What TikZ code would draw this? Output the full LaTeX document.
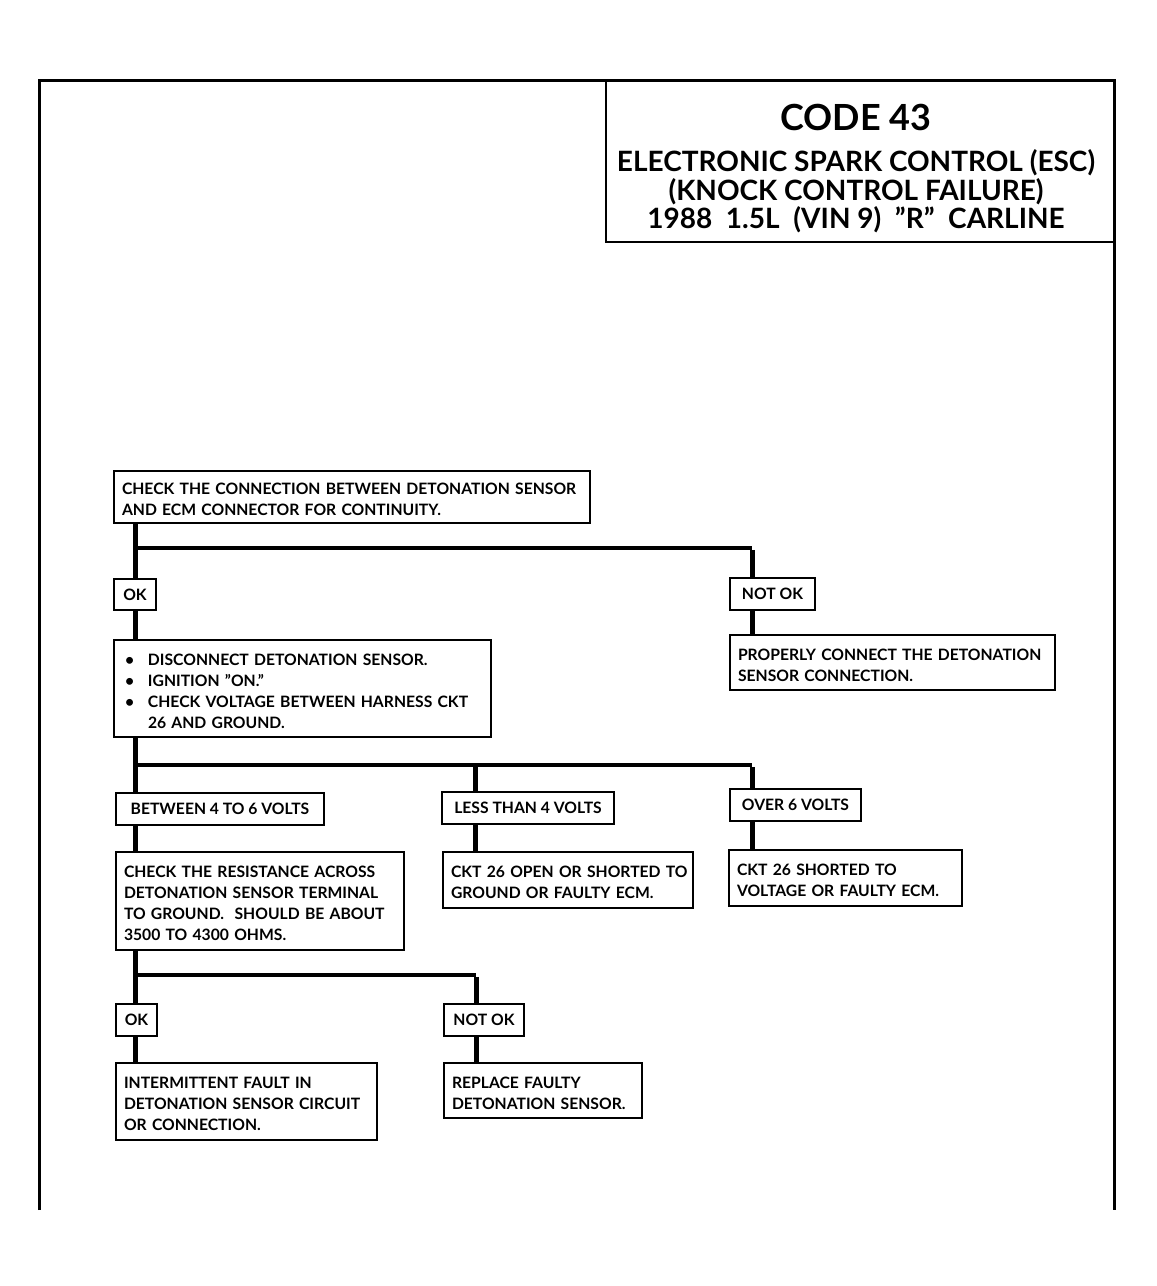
\documentclass[tikz,border=0pt]{standalone}
\usepackage{fontspec}
\setmainfont{Lato}
\newcommand\boxfont{\fontsize{15.7}{21}\selectfont\bfseries}
\newcommand\titlefont{\fontsize{28}{29}\selectfont\bfseries}
\newcommand\codefont{\fontsize{36}{40}\selectfont\bfseries}
\tikzset{
  box/.style={draw, line width=1.3pt, anchor=north west, align=left,
    inner xsep=8pt, inner ysep=0pt, outer sep=0pt, font=\boxfont,
    execute at begin node={\rule{0pt}{17pt}}},
  lbl/.style={draw, line width=1.3pt, anchor=north west, align=center,
    inner xsep=2pt, inner ysep=0pt, outer sep=0pt, font=\boxfont},
  conn/.style={line width=5pt},
  hconn/.style={line width=3.6pt},
  frame/.style={line width=3pt},
}
\newcommand\bul{\hspace*{3pt}\makebox[23pt][l]{•}}
\newcommand\bulind{\hspace*{26pt}}
\begin{document}
\begin{tikzpicture}[x=1pt,y=-1pt]
\useasboundingbox (0,0) rectangle (1157,1286);
% page frame
\draw[frame] (39,1210) -- (39,80) -- (1114,80) -- (1114,1210);
% title block
\node[draw, line width=1.3pt, anchor=north west, minimum width=508pt,
  minimum height=162pt, outer sep=0pt, inner sep=0pt] (title) at (606,80) {};
\node[font=\codefont] (code) at (856,117) {CODE 43};
\node[font=\titlefont] (t1) at (856,163) {ELECTRONIC SPARK CONTROL (ESC)};
\node[font=\titlefont] (t2) at (856,192) {(KNOCK CONTROL FAILURE)};
\node[font=\titlefont] (t3) at (856,220) {1988\ \ 1.5L\ \ (VIN 9)\ \ ”R”\ \ CARLINE};
% column coordinates
\coordinate (c1) at (135,0);
\coordinate (c2) at (475,0);
\coordinate (c3) at (752,0);
\coordinate (yA) at (0,548);
\coordinate (yB) at (0,765);
\coordinate (yC) at (0,975);
% boxes
\node[box, text width=460pt, minimum height=52pt] (b1) at (114,471)
  {\mbox{CHECK THE CONNECTION BETWEEN DETONATION SENSOR}\\AND ECM CONNECTOR FOR CONTINUITY.};
\node[lbl, minimum width=42pt, minimum height=31pt] (ok1) at (114,579) {OK};
\node[lbl, minimum width=85pt, minimum height=32pt] (nok1) at (730,578) {NOT OK};
\node[box, text width=309pt, minimum height=55pt] (prop) at (730,635)
  {\mbox{PROPERLY CONNECT THE DETONATION}\\SENSOR CONNECTION.};
\node[box, text width=361pt, minimum height=97pt] (b2) at (114,640)
  {\bul DISCONNECT DETONATION SENSOR.\\\bul IGNITION ”ON.”\\\bul \mbox{CHECK VOLTAGE BETWEEN HARNESS CKT}\\\bulind 26 AND GROUND.};
\node[lbl, minimum width=208pt, minimum height=32pt] (btw) at (116,793) {BETWEEN 4 TO 6 VOLTS};
\node[lbl, minimum width=172pt, minimum height=32pt] (less) at (442,792) {LESS THAN 4 VOLTS};
\node[lbl, minimum width=131pt, minimum height=32pt] (over) at (730,789) {OVER 6 VOLTS};
\node[box, text width=272pt, minimum height=98pt] (res) at (116,852)
  {CHECK THE RESISTANCE ACROSS\\DETONATION SENSOR TERMINAL\\\mbox{TO GROUND.\ \ SHOULD BE ABOUT}\\3500 TO 4300 OHMS.};
\node[box, text width=234pt, minimum height=56pt] (open) at (443,852)
  {\mbox{CKT 26 OPEN OR SHORTED TO}\\GROUND OR FAULTY ECM.};
\node[box, text width=217pt, minimum height=56pt] (short) at (729,850)
  {CKT 26 SHORTED TO\\\mbox{VOLTAGE OR FAULTY ECM.}};
\node[lbl, minimum width=41pt, minimum height=32pt] (ok2) at (116,1004) {OK};
\node[lbl, minimum width=80pt, minimum height=32pt] (nok2) at (444,1004) {NOT OK};
\node[box, text width=245pt, minimum height=77pt] (inter) at (116,1063)
  {INTERMITTENT FAULT IN\\\mbox{DETONATION SENSOR CIRCUIT}\\OR CONNECTION.};
\node[box, text width=182pt, minimum height=55pt] (repl) at (444,1063)
  {REPLACE FAULTY\\\mbox{DETONATION SENSOR.}};
% connectors
\draw[conn] (c1 |- b1.south) -- (c1 |- ok1.north);
\draw[hconn] (c1 |- yA) -- (c3 |- yA);
\draw[conn] ([yshift=-1.8pt]c3 |- yA) -- (c3 |- nok1.north);
\draw[conn] (c3 |- nok1.south) -- (c3 |- prop.north);
\draw[conn] (c1 |- ok1.south) -- (c1 |- b2.north);
\draw[conn] (c1 |- b2.south) -- (c1 |- btw.north);
\draw[hconn] (c1 |- yB) -- (c3 |- yB);
\draw[conn] ([yshift=-1.8pt]c2 |- yB) -- (c2 |- less.north);
\draw[conn] ([yshift=-1.8pt]c3 |- yB) -- (c3 |- over.north);
\draw[conn] (c1 |- btw.south) -- (c1 |- res.north);
\draw[conn] (c2 |- less.south) -- (c2 |- open.north);
\draw[conn] (c3 |- over.south) -- (c3 |- short.north);
\draw[conn] (c1 |- res.south) -- (c1 |- ok2.north);
\draw[hconn] (c1 |- yC) -- ([xshift=1pt]c2 |- yC);
\draw[conn] ([xshift=1pt,yshift=-1.8pt]c2 |- yC) -- ([xshift=1pt]c2 |- nok2.north);
\draw[conn] ([xshift=1pt]c2 |- nok2.south) -- ([xshift=1pt]c2 |- repl.north);
\draw[conn] (c1 |- ok2.south) -- (c1 |- inter.north);
\end{tikzpicture}
\end{document}
